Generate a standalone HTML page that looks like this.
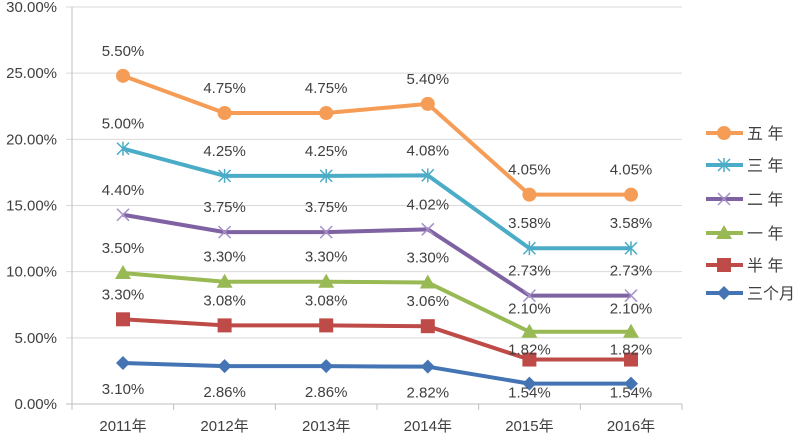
<!DOCTYPE html><html><head><meta charset="utf-8"><style>body{margin:0;background:#fff}svg{display:block;font-family:"Liberation Sans","Noto Sans CJK SC",sans-serif}</style></head><body>
<svg id="s" width="800" height="436" xmlns="http://www.w3.org/2000/svg"></svg>
<script>
const s=document.getElementById('s');let h='';
const Y=v=>404-v*13.233, X=i=>123+i*101.6;
for(let k=0;k<=6;k++){const y=404-k*66.17;h+=`<line x1="66" x2="682" y1="${y}" y2="${y}" stroke="${k?'#d9d9d9':'#bfbfbf'}"/>`;h+=`<text x="57" y="${y+5}" font-size="15" fill="#404040" text-anchor="end">${(k*5).toFixed(2)}%</text>`;}
h+=`<line x1="72" x2="72" y1="7" y2="404" stroke="#bfbfbf"/>`;
for(let i=0;i<=6;i++){const x=72+i*101.67;h+=`<line x1="${x}" x2="${x}" y1="404" y2="410" stroke="#bfbfbf"/>`;}
for(let i=0;i<6;i++)h+=`<text x="${X(i)}" y="431" font-size="15" fill="#404040" text-anchor="middle">${2011+i}年</text>`;
const raw=[[3.10,2.86,2.86,2.82,1.54,1.54],[3.30,3.08,3.08,3.06,1.82,1.82],[3.50,3.30,3.30,3.30,2.10,2.10],[4.40,3.75,3.75,4.02,2.73,2.73],[5.00,4.25,4.25,4.08,3.58,3.58],[5.50,4.75,4.75,5.40,4.05,4.05]];
const col=['#4474b4','#be4b48','#98b954','#7e62a1','#4aacc6','#f59d56'];
const mk=['dia','sq','tri','x','star','circ'];
const names=['三个月','半 年','一 年','二 年','三 年','五 年'];
function marker(t,x,y,c){
 if(t=='dia')return `<polygon points="${x},${y-7} ${x+7},${y} ${x},${y+7} ${x-7},${y}" fill="${c}"/>`;
 if(t=='sq')return `<rect x="${x-7}" y="${y-7}" width="14" height="14" fill="${c}"/>`;
 if(t=='tri')return `<polygon points="${x},${y-8} ${x+8},${y+6} ${x-8},${y+6}" fill="${c}"/>`;
 if(t=='circ')return `<circle cx="${x}" cy="${y}" r="7" fill="${c}"/>`;
 if(t=='x')return `<path d="M${x-6} ${y-6}L${x+6} ${y+6}M${x-6} ${y+6}L${x+6} ${y-6}" stroke="#a58fc8" stroke-width="1.5"/>`;
 return `<path d="M${x-6} ${y-6}L${x+6} ${y+6}M${x-6} ${y+6}L${x+6} ${y-6}M${x} ${y-7}V${y+7}" stroke="${c}" stroke-width="1.5"/>`;
}
let cum=[0,0,0,0,0,0];
raw.forEach((r,j)=>{cum=cum.map((c,i)=>c+r[i]);const pts=cum.map((v,i)=>[X(i),Y(v)]);
 h+=`<polyline points="${pts.map(p=>p.join(',')).join(' ')}" fill="none" stroke="${col[j]}" stroke-width="4" stroke-linejoin="round"/>`;
 pts.forEach((p,i)=>{h+=marker(mk[j],p[0],p[1],col[j]);let ly=j==0?p[1]+31:p[1]-20;
  if(i>=4){if(j==0)ly=p[1]+14;if(j==1)ly=p[1]-5;if(j==2)ly=p[1]-18;}
  h+=`<text x="${p[0]}" y="${ly}" font-size="15" fill="#404040" text-anchor="middle">${r[i].toFixed(2)}%</text>`;});
});
const ly=[293,265,233,199,165,133];
for(let j=0;j<6;j++){const y=ly[j];h+=`<line x1="706" x2="743" y1="${y}" y2="${y}" stroke="${col[j]}" stroke-width="4"/>`+marker(mk[j],724,y,col[j])+`<text x="747" y="${y+6}" font-size="16" fill="#404040">${names[j]}</text>`;}
s.innerHTML=h;
</script></body></html>
